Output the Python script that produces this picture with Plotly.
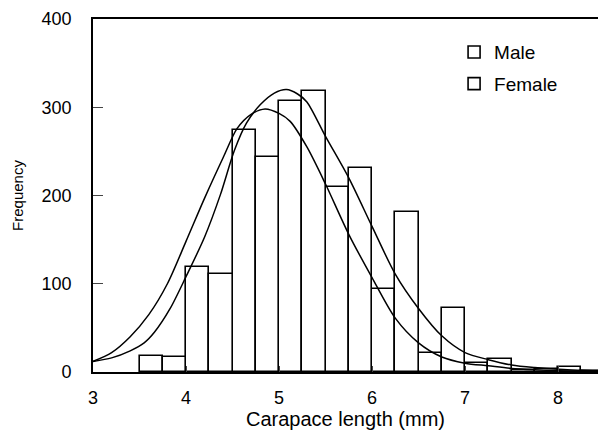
import plotly.graph_objects as go

# Histogram groups (0.5 mm classes, centre of class); left bar = Male, right bar = Female
class_centres = [3.75, 4.25, 4.75, 5.25, 5.75, 6.25, 6.75, 7.25, 7.75, 8.25]
male_counts = [18, 119, 274, 307, 210, 94, 22, 10, 2, 6]
female_counts = [16.5, 111, 244, 318, 231, 181, 73, 14.6, 3, 1]

# Fitted curves
male_curve_x = [3.0, 3.2, 3.4, 3.6, 3.8, 4.0, 4.2, 4.4, 4.55, 4.7, 4.85, 5.0, 5.12,
                5.3, 5.5, 5.75, 6.0, 6.25, 6.5, 6.75, 7.0, 7.25, 7.5, 7.75, 8.0, 8.25, 8.43]
male_curve_y = [12, 22, 40, 65, 100, 148, 197, 243, 276, 292, 298, 293, 284,
                255, 213, 156, 107, 61, 33, 17, 10, 7, 4, 2.5, 1.5, 1, 0.5]
female_curve_x = [3.0, 3.2, 3.4, 3.55, 3.66, 3.83, 4.0, 4.2, 4.37, 4.52, 4.65, 4.8, 4.95,
                  5.08, 5.2, 5.3, 5.5, 5.75, 6.0, 6.25, 6.5, 6.75, 7.0, 7.25, 7.5, 7.75,
                  8.0, 8.25, 8.43]
female_curve_y = [12, 16, 24, 33, 45, 72, 108, 153, 201, 251, 282, 303, 316,
                  320, 315, 306, 267, 220, 165, 111, 72, 41, 22, 14, 8, 5,
                  3, 2, 1]

x_ticks = [3, 4, 5, 6, 7, 8]
y_ticks = [0, 100, 200, 300, 400]

FONT = "Liberation Sans, Arial, sans-serif"

fig = go.Figure()
fig.add_trace(go.Bar(x=class_centres, y=male_counts, name="Male",
                     marker=dict(color="white", line=dict(color="black", width=1.6)),
                     legendgroup="m"))
fig.add_trace(go.Bar(x=class_centres, y=female_counts, name="Female",
                     marker=dict(color="white", line=dict(color="black", width=1.6)),
                     legendgroup="f"))
fig.add_trace(go.Scatter(x=male_curve_x, y=male_curve_y, mode="lines",
                         line=dict(color="black", width=1.5, shape="spline", smoothing=0.8),
                         showlegend=False, hoverinfo="skip"))
fig.add_trace(go.Scatter(x=female_curve_x, y=female_curve_y, mode="lines",
                         line=dict(color="black", width=1.5, shape="spline", smoothing=0.8),
                         showlegend=False, hoverinfo="skip"))

fig.update_layout(
    width=600, height=441,
    margin=dict(l=93, r=2, t=19, b=69),
    paper_bgcolor="white", plot_bgcolor="white",
    barmode="group", bargap=0, bargroupgap=0,
    font=dict(family=FONT, size=18, color="black"),
    legend=dict(x=0.715, y=0.96, xanchor="left", yanchor="top",
                bgcolor="rgba(0,0,0,0)", font=dict(size=19),
                traceorder="grouped", tracegroupgap=4, itemwidth=30),
    xaxis=dict(range=[3, 8.43], tickvals=x_ticks, ticks="inside", ticklen=6,
               showline=True, linecolor="black", linewidth=1.6, mirror=True,
               showgrid=False, zeroline=False, ticklabelstandoff=9,
               title=dict(text="Carapace length (mm)", font=dict(size=20), standoff=4)),
    yaxis=dict(range=[0, 400], tickvals=y_ticks, ticks="inside", ticklen=10,
               showline=True, linecolor="black", linewidth=1.6, mirror=False,
               showgrid=False, zeroline=False, ticklabelstandoff=16,
               title=dict(text="Frequency", font=dict(size=15), standoff=14)),
)

fig.write_html("out.html")
